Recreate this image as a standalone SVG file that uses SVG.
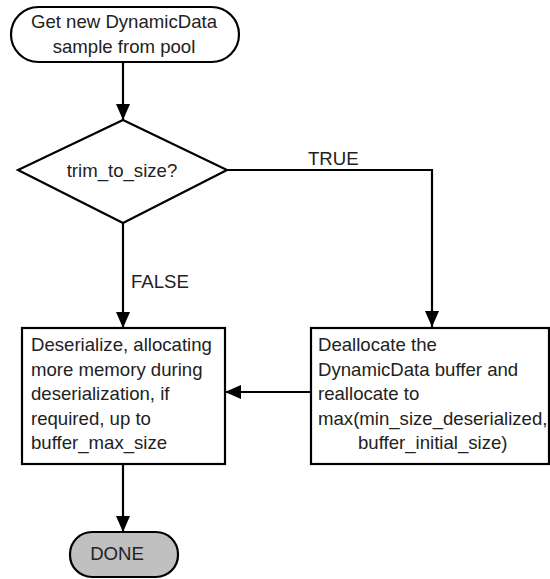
<svg xmlns="http://www.w3.org/2000/svg" width="550" height="579" viewBox="0 0 550 579">
  <style>
    .shape { fill: #ffffff; stroke: #000000; stroke-width: 2.2; }
    .done { fill: #c0c0c0; stroke: #000000; stroke-width: 2.2; }
    .conn { fill: none; stroke: #000000; stroke-width: 2.2; }
    .t { font-family: "Liberation Sans", Arial, sans-serif; font-size: 18.6px; fill: #222222; }
    .c { text-anchor: middle; }
  </style>
  <defs>
    <marker id="arrow" markerUnits="userSpaceOnUse" markerWidth="16" markerHeight="16" viewBox="0 0 16 16" refX="16" refY="8" orient="auto">
      <path d="M0,1 L16,8 L0,15 Z" fill="#000000"/>
    </marker>
  </defs>
  <rect width="550" height="579" fill="#ffffff"/>

  <g id="connectors">
    <path class="conn" d="M123,62 L123,120" marker-end="url(#arrow)"/>
    <path class="conn" d="M123,223 L123,328" marker-end="url(#arrow)"/>
    <path class="conn" d="M227,170 L432,170 L432,327" marker-end="url(#arrow)"/>
    <path class="conn" d="M311,392 L225,392" marker-end="url(#arrow)"/>
    <path class="conn" d="M123,464 L123,532" marker-end="url(#arrow)"/>
    <text class="t" x="308" y="165">TRUE</text>
    <text class="t" x="131" y="288">FALSE</text>
  </g>

  <g id="start">
    <rect class="shape" x="11" y="7" width="228" height="55" rx="27.5" ry="27.5"/>
    <text class="t c" x="124" y="28">Get new DynamicData</text>
    <text class="t c" x="124" y="53">sample from pool</text>
  </g>

  <g id="decision">
    <polygon class="shape" points="123,120 227,170 123,223 18,170"/>
    <text class="t c" x="122" y="177">trim_to_size?</text>
  </g>

  <g id="deserialize">
    <rect class="shape" x="22" y="328" width="203" height="136"/>
    <text class="t" x="31" y="351">Deserialize, allocating</text>
    <text class="t" x="31" y="375.5">more memory during</text>
    <text class="t" x="31" y="400">deserialization, if</text>
    <text class="t" x="31" y="424.5">required, up to</text>
    <text class="t" x="31" y="449">buffer_max_size</text>
  </g>

  <g id="reallocate">
    <rect class="shape" x="311" y="328" width="238" height="136"/>
    <text class="t" x="318" y="351">Deallocate the</text>
    <text class="t" x="318" y="375.5">DynamicData buffer and</text>
    <text class="t" x="318" y="400">reallocate to</text>
    <text class="t" x="318" y="424.5">max(min_size_deserialized,</text>
    <text class="t" x="358" y="449">buffer_initial_size)</text>
  </g>

  <g id="done">
    <rect class="done" x="70" y="532" width="108" height="45" rx="22" ry="22"/>
    <text class="t c" x="117" y="560">DONE</text>
  </g>
</svg>
